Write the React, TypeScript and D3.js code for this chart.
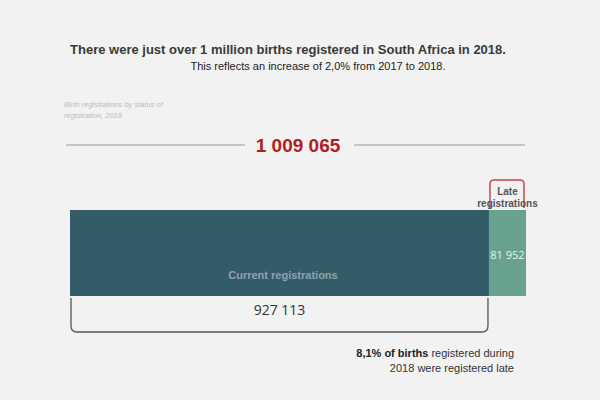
import React from 'react'
import * as d3 from 'd3'

const categories = ['Current registrations', 'Late registrations']
const values = [927113, 81952]
const total = 1009065
const titleText = 'There were just over 1 million births registered in South Africa in 2018.'
const subtitleText = 'This reflects an increase of 2,0% from 2017 to 2018.'
const colors = ['#345c68', '#68a28f']

const fmt = (v: number) => d3.format(',')(v).replace(/,/g, ' ')

export default function App() {
  const width = 600
  const height = 400
  const barTop = 210
  const barH = 86

  const x = d3.scaleLinear().domain([0, total]).range([70, 526])

  let acc = 0
  const segs = values.map((v, i) => {
    const s = { name: categories[i], x0: x(acc), x1: x(acc + v), v }
    acc += v
    return s
  })
  const cur = segs[0]
  const late = segs[1]
  const r = 6

  // bracket under current registrations
  const bTop = barTop + barH + 2
  const bBot = 332
  const curBracket = `M${cur.x0 + 1},${bTop} L${cur.x0 + 1},${bBot - r} Q${cur.x0 + 1},${bBot} ${cur.x0 + 1 + r},${bBot} L${cur.x1 - 1 - r},${bBot} Q${cur.x1 - 1},${bBot} ${cur.x1 - 1},${bBot - r} L${cur.x1 - 1},${bTop}`

  // bracket above late registrations
  const lTop = 180
  const lBot = barTop - 2
  const lr = 4
  const lateBracket = `M${late.x0 + 1},${lBot} L${late.x0 + 1},${lTop + lr} Q${late.x0 + 1},${lTop} ${late.x0 + 1 + lr},${lTop} L${late.x1 - 2 - lr},${lTop} Q${late.x1 - 2},${lTop} ${late.x1 - 2},${lTop + lr} L${late.x1 - 2},${lBot}`

  const font = 'Liberation Sans, Arial, sans-serif'
  const numFont = 'Open Sans, sans-serif'

  return (
    <svg width={width} height={height} style={{ position: 'fixed', left: 0, top: 0 }}>
      <rect x={0} y={0} width={width} height={height} fill="#f2f2f2" />

      <text x={288} y={54} textAnchor="middle" fontFamily={font} fontSize={13} fontWeight="bold" fill="#3a3a3a">{titleText}</text>
      <text x={318} y={70} textAnchor="middle" fontFamily={font} fontSize={11} fill="#222">{subtitleText}</text>

      <text fontFamily={font} fontSize={7.5} fontStyle="italic" fill="#bbbbbb">
        <tspan x={64} y={107}>Birth registrations by status of</tspan>
        <tspan x={64} y={118}>registration, 2018</tspan>
      </text>

      <line x1={66} x2={245} y1={145} y2={145} stroke="#999" strokeWidth={1} />
      <line x1={354} x2={525} y1={145} y2={145} stroke="#999" strokeWidth={1} />
      <text x={298} y={152} textAnchor="middle" fontFamily={font} fontSize={19} fontWeight="bold" fill="#b01e1e">{fmt(total)}</text>

      {segs.map((s, i) => (
        <rect key={s.name} x={s.x0} y={barTop} width={s.x1 - s.x0} height={barH} fill={colors[i]} />
      ))}

      <text x={283} y={279} textAnchor="middle" fontFamily={font} fontSize={11} fontWeight="bold" fill="#8ea3ab">{cur.name}</text>
      <text x={(late.x0 + late.x1) / 2} y={259} textAnchor="middle" fontFamily={numFont} fontSize={11} fill="#e8f2ee">{fmt(late.v)}</text>

      <path d={curBracket} fill="none" stroke="#4a5a60" strokeWidth={1.3} />
      <text x={(cur.x0 + cur.x1) / 2} y={315} textAnchor="middle" fontFamily={numFont} fontSize={14} fill="#333">{fmt(cur.v)}</text>

      <path d={lateBracket} fill="none" stroke="#c0484d" strokeWidth={1.5} />
      <text textAnchor="middle" fontFamily={font} fontSize={10} fontWeight="bold" fill="#555">
        <tspan x={(late.x0 + late.x1) / 2} y={195}>Late</tspan>
        <tspan x={(late.x0 + late.x1) / 2} y={207}>registrations</tspan>
      </text>

      <text x={514} y={357} textAnchor="end" fontFamily={font} fontSize={11} fill="#333">
        <tspan fontWeight="bold" fill="#222">8,1% of births</tspan> registered during
      </text>
      <text x={514} y={372} textAnchor="end" fontFamily={font} fontSize={11} fill="#333">2018 were registered late</text>
    </svg>
  )
}
